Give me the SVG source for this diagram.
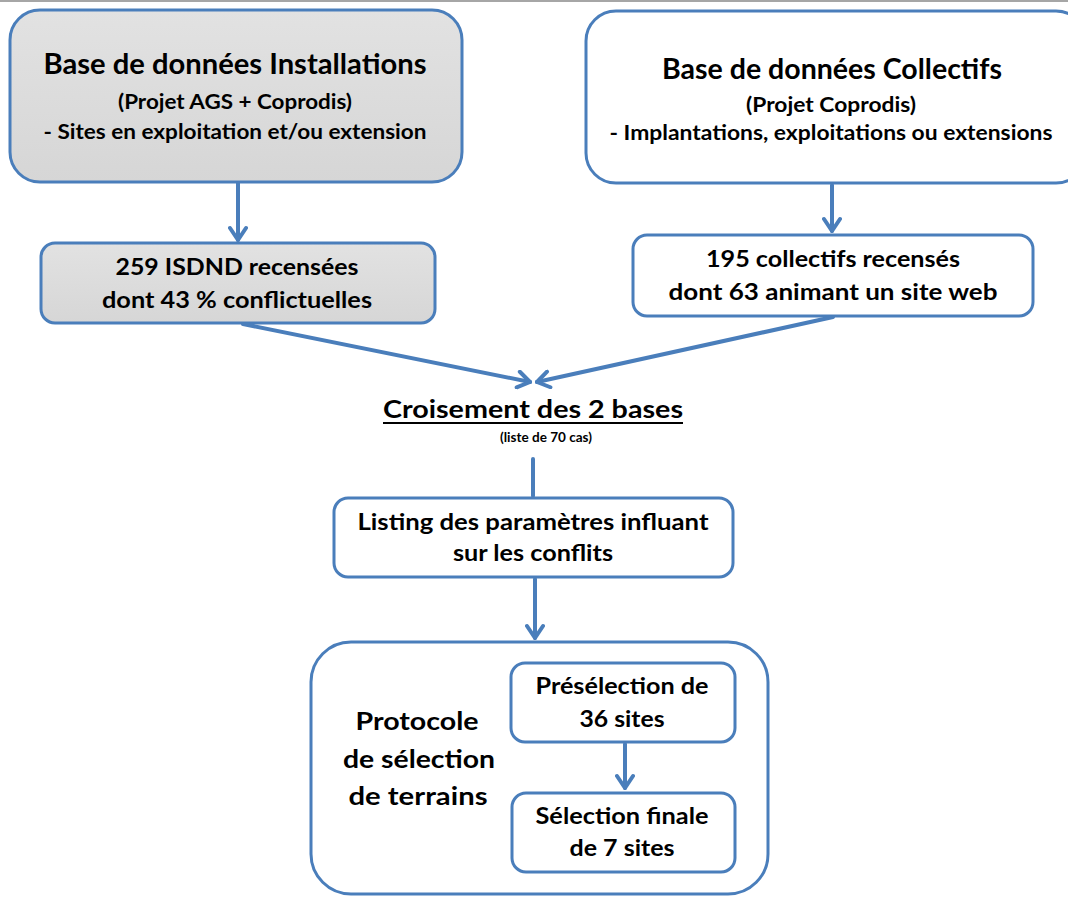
<svg xmlns="http://www.w3.org/2000/svg" width="1068" height="897" viewBox="0 0 1068 897">
<style>
.box{stroke:#4a7ebb;stroke-width:3;}
.w{fill:#ffffff;}
.g{fill:url(#gray);}
.t{font-family:Lato,"Liberation Sans",sans-serif;font-weight:bold;fill:#000;text-anchor:middle;}
.c{stroke:#4a7ebb;stroke-width:4;fill:none;stroke-linecap:round;}
</style>
<defs>
<linearGradient id="gray" x1="0" y1="0" x2="0" y2="1">
<stop offset="0" stop-color="#e2e2e2"/>
<stop offset="1" stop-color="#d6d6d6"/>
</linearGradient>
<marker id="ah" viewBox="0 0 20 20" refX="17" refY="10" markerWidth="20" markerHeight="20" markerUnits="userSpaceOnUse" orient="auto">
<path d="M5,2 L17,10 L5,18" fill="none" stroke="#4a7ebb" stroke-width="4" stroke-linecap="round" stroke-linejoin="round"/>
</marker>
</defs>
<rect x="0" y="0" width="1068" height="2" fill="#a6a6a6"/>
<g id="n1">
<rect class="box g" x="10" y="10" width="452" height="172" rx="30"/>
<text class="t" x="235" y="74" font-size="29" textLength="383" lengthAdjust="spacingAndGlyphs">Base de données Installations</text>
<text class="t" x="235" y="109" font-size="20" textLength="234" lengthAdjust="spacingAndGlyphs">(Projet AGS + Coprodis)</text>
<text class="t" x="235" y="139" font-size="20" textLength="383" lengthAdjust="spacingAndGlyphs">- Sites en exploitation et/ou extension</text>
</g>
<g id="n2">
<rect class="box w" x="586" y="11" width="500" height="172" rx="30"/>
<text class="t" x="832" y="79" font-size="29" textLength="340" lengthAdjust="spacingAndGlyphs">Base de données Collectifs</text>
<text class="t" x="831" y="112" font-size="20" textLength="170" lengthAdjust="spacingAndGlyphs">(Projet Coprodis)</text>
<text class="t" x="831" y="140" font-size="20" textLength="443" lengthAdjust="spacingAndGlyphs">- Implantations, exploitations ou extensions</text>
</g>
<g id="n3">
<rect class="box g" x="41" y="243" width="394" height="80" rx="14"/>
<text class="t" x="237" y="275" font-size="23" textLength="243" lengthAdjust="spacingAndGlyphs">259 ISDND recensées</text>
<text class="t" x="237" y="308" font-size="23" textLength="270" lengthAdjust="spacingAndGlyphs">dont 43 % conflictuelles</text>
</g>
<g id="n4">
<rect class="box w" x="633" y="235" width="400" height="81" rx="14"/>
<text class="t" x="833" y="267" font-size="23" textLength="254" lengthAdjust="spacingAndGlyphs">195 collectifs recensés</text>
<text class="t" x="833" y="300" font-size="23" textLength="329" lengthAdjust="spacingAndGlyphs">dont 63 animant un site web</text>
</g>
<g id="n5">
<text class="t" x="533" y="418" font-size="24" textLength="300" lengthAdjust="spacingAndGlyphs">Croisement des 2 bases</text>
<line x1="383" y1="423" x2="683" y2="423" stroke="#000" stroke-width="2"/>
<text class="t" x="546" y="442" font-size="14" textLength="92" lengthAdjust="spacingAndGlyphs">(liste de 70 cas)</text>
</g>
<g id="n6">
<rect class="box w" x="334" y="498" width="399" height="79" rx="14"/>
<text class="t" x="533" y="530" font-size="23" textLength="351" lengthAdjust="spacingAndGlyphs">Listing des paramètres influant</text>
<text class="t" x="533" y="561" font-size="23" textLength="160" lengthAdjust="spacingAndGlyphs">sur les conflits</text>
</g>
<g id="n7">
<rect class="box w" x="311" y="642" width="457" height="252" rx="40"/>
<text class="t" x="417" y="730" font-size="24" textLength="123" lengthAdjust="spacingAndGlyphs">Protocole</text>
<text class="t" x="419" y="768" font-size="24" textLength="152" lengthAdjust="spacingAndGlyphs">de sélection</text>
<text class="t" x="418" y="805" font-size="24" textLength="139" lengthAdjust="spacingAndGlyphs">de terrains</text>
</g>
<g id="n8">
<rect class="box w" x="511" y="663" width="224" height="79" rx="14"/>
<text class="t" x="622" y="694" font-size="23" textLength="173" lengthAdjust="spacingAndGlyphs">Présélection de</text>
<text class="t" x="622" y="727" font-size="23" textLength="85" lengthAdjust="spacingAndGlyphs">36 sites</text>
</g>
<g id="n9">
<rect class="box w" x="512" y="793" width="223" height="79" rx="14" stroke-width="4.5"/>
<text class="t" x="622" y="824" font-size="23" textLength="173" lengthAdjust="spacingAndGlyphs">Sélection finale</text>
<text class="t" x="622" y="856" font-size="23" textLength="105" lengthAdjust="spacingAndGlyphs">de 7 sites</text>
</g>
<g id="connectors">
<line class="c" x1="238" y1="183" x2="238" y2="240" marker-end="url(#ah)"/>
<line class="c" x1="832" y1="185" x2="832" y2="231" marker-end="url(#ah)"/>
<line class="c" x1="243" y1="324" x2="530" y2="382" marker-end="url(#ah)"/>
<line class="c" x1="833" y1="317" x2="537" y2="382" marker-end="url(#ah)"/>
<line class="c" x1="533" y1="459" x2="533" y2="496"/>
<line class="c" x1="535" y1="579" x2="535" y2="638" marker-end="url(#ah)"/>
<line class="c" x1="625" y1="744" x2="625" y2="788" marker-end="url(#ah)"/>
</g>
</svg>
